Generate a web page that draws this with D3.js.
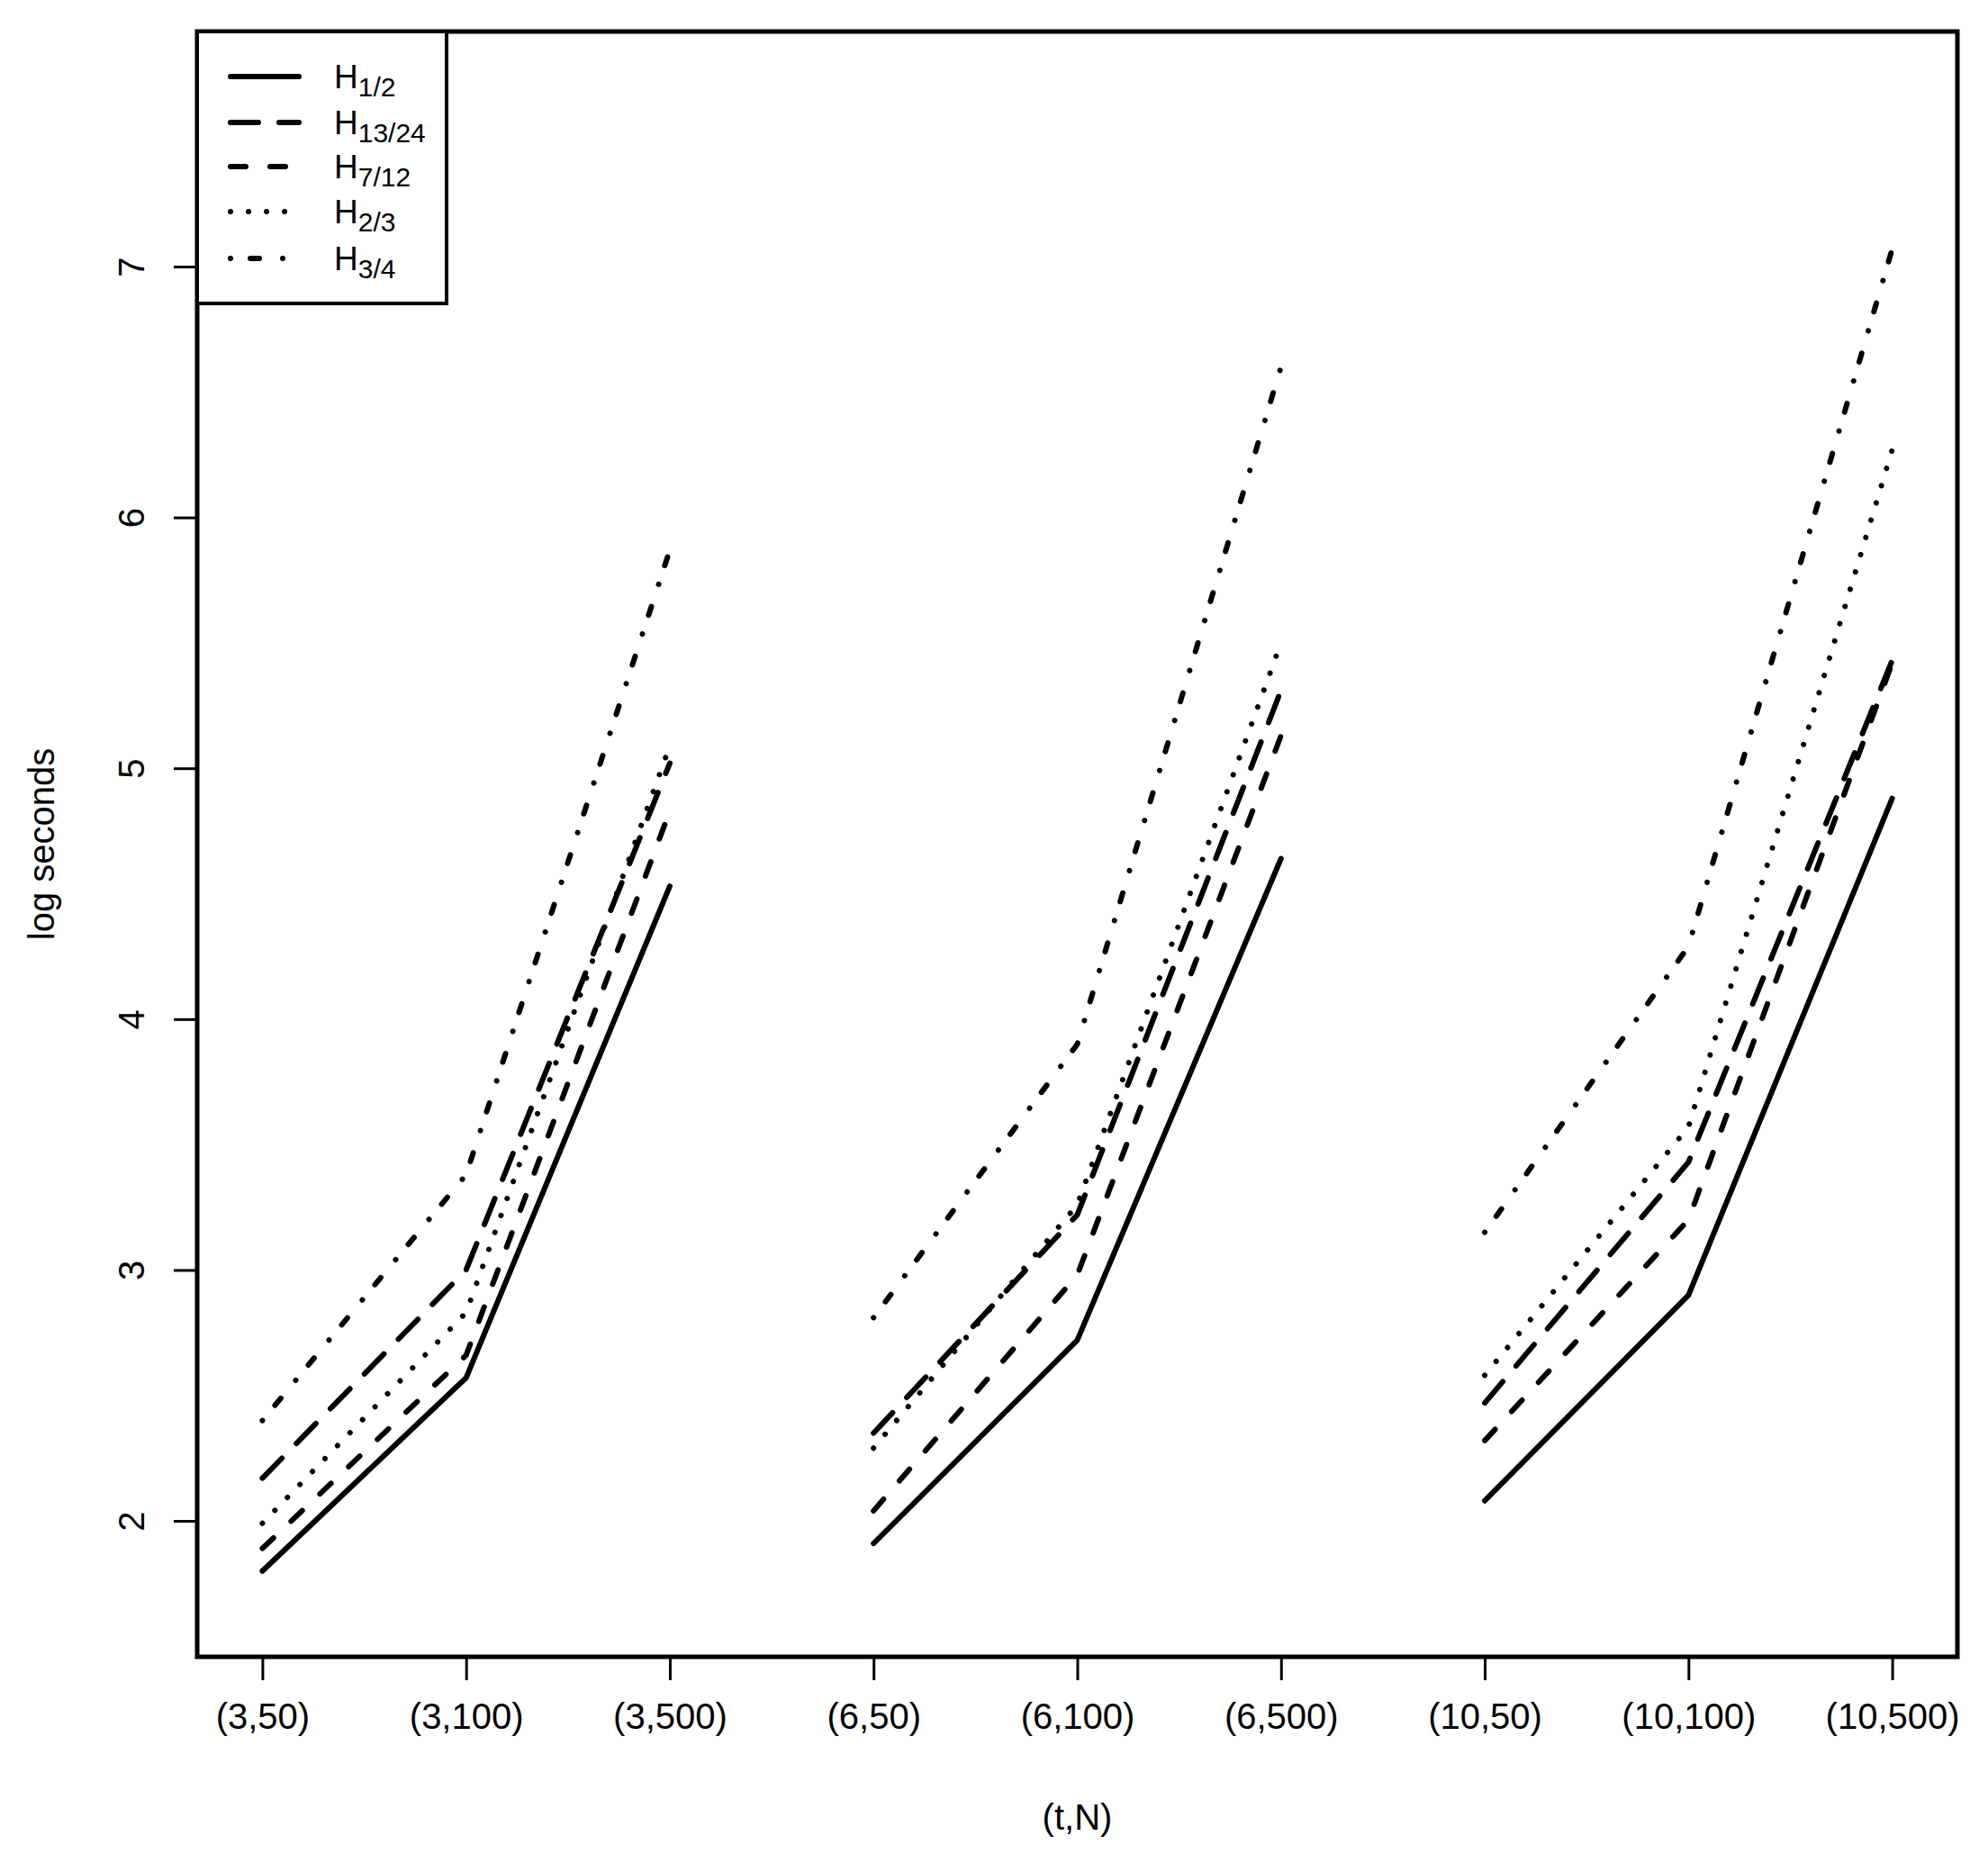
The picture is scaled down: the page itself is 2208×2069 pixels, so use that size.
<!DOCTYPE html>
<html>
<head>
<meta charset="utf-8">
<script src="https://cdn.jsdelivr.net/npm/d3@7"></script>
<style>
  body { margin: 0; background: #fff; }
  svg { display: block; font-family: "Liberation Sans", Arial, sans-serif; }
</style>
</head>
<body>
<div id="chart"></div>
<script>
// x categories (t,N)
var categories = ["(3,50)", "(3,100)", "(3,500)", "(6,50)", "(6,100)", "(6,500)", "(10,50)", "(10,100)", "(10,500)"];
var tValues = [3, 3, 3, 6, 6, 6, 10, 10, 10];

// log seconds per series
var h1_2 = [1.80, 2.57, 4.53, 1.91, 2.72, 4.64, 2.08, 2.90, 4.88];
var h13_24 = [2.17, 3.00, 5.02, 2.35, 3.22, 5.31, 2.47, 3.43, 5.43];
var h7_12 = [1.89, 2.66, 4.83, 2.04, 2.98, 5.13, 2.32, 3.20, 5.42];
var h2_3 = [1.99, 2.83, 5.09, 2.29, 3.26, 5.50, 2.58, 3.57, 6.27];
var h3_4 = [2.40, 3.38, 5.87, 2.81, 3.90, 6.60, 3.15, 4.29, 7.07];

var seriesSubs = ["1/2", "13/24", "7/12", "2/3", "3/4"];
var yTicks = [2, 3, 4, 5, 6, 7];

var width = 2208,
  height = 2069;

var box = { left: 219, right: 2174, top: 35, bottom: 1840 };

// R style: 4% padding on x, y limits
var x = d3.scaleLinear().domain([0.68, 9.32]).range([box.left, box.right]);
var y = d3.scaleLinear().domain([1.458, 7.937]).range([box.bottom, box.top]);

var lw = 6;
var dashes = ["none", "31 23", "17 27", "0.01 20", "0.01 22 10 26"];

var series = [h1_2, h13_24, h7_12, h2_3, h3_4].map(function(vals, i) {
  return { sub: seriesSubs[i], dash: dashes[i], values: vals };
});

var svg = d3
  .select("#chart")
  .append("svg")
  .attr("width", width)
  .attr("height", height);

svg
  .append("rect")
  .attr("width", width)
  .attr("height", height)
  .attr("fill", "#fff");

var line = d3
  .line()
  .x(function(d) {
    return x(d.i + 1);
  })
  .y(function(d) {
    return y(d.v);
  });

// one path per series per t group
var tGroups = Array.from(new Set(tValues));

series.forEach(function(s) {
  tGroups.forEach(function(t) {
    var pts = s.values
      .map(function(v, i) {
        return { v: v, i: i, t: tValues[i] };
      })
      .filter(function(d) {
        return d.t === t;
      });
    svg
      .append("path")
      .attr("d", line(pts))
      .attr("fill", "none")
      .attr("stroke", "#000")
      .attr("stroke-width", lw)
      .attr("stroke-linecap", "round")
      .attr("stroke-linejoin", "round")
      .attr("stroke-dasharray", s.dash);
  });
});

// frame
svg
  .append("rect")
  .attr("x", box.left)
  .attr("y", box.top)
  .attr("width", box.right - box.left)
  .attr("height", box.bottom - box.top)
  .attr("fill", "none")
  .attr("stroke", "#000")
  .attr("stroke-width", 5);

// x axis
var xAxis = d3
  .axisBottom(x)
  .tickValues(d3.range(1, categories.length + 1))
  .tickFormat(function(d) {
    return categories[d - 1];
  })
  .tickSize(26)
  .tickPadding(26);

var gx = svg
  .append("g")
  .attr("transform", "translate(0," + box.bottom + ")")
  .call(xAxis);
gx.select(".domain").remove();
gx.selectAll(".tick line").attr("stroke", "#000").attr("stroke-width", 3);
gx.selectAll(".tick text")
  .attr("fill", "#000")
  .style("font-size", "40px")
  .style("font-family", "Liberation Sans, Arial, sans-serif");

// y axis
var yAxis = d3
  .axisLeft(y)
  .tickValues(yTicks)
  .tickFormat(d3.format("d"))
  .tickSize(26);

var gy = svg
  .append("g")
  .attr("transform", "translate(" + box.left + ",0)")
  .call(yAxis);
gy.select(".domain").remove();
gy.selectAll(".tick line").attr("stroke", "#000").attr("stroke-width", 3);
gy.selectAll(".tick text")
  .attr("fill", "#000")
  .attr("x", null)
  .attr("text-anchor", "middle")
  .attr("transform", "translate(-73,0) rotate(-90)")
  .attr("y", 0)
  .attr("dy", "0.35em")
  .style("font-size", "40px")
  .style("font-family", "Liberation Sans, Arial, sans-serif");

// axis titles
svg
  .append("text")
  .attr("x", (box.left + box.right) / 2)
  .attr("y", 2032)
  .attr("text-anchor", "middle")
  .style("font-size", "40px")
  .text("(t,N)");

svg
  .append("text")
  .attr("transform", "translate(60," + (box.top + box.bottom) / 2 + ") rotate(-90)")
  .attr("text-anchor", "middle")
  .style("font-size", "40px")
  .text("log seconds");

// legend
var legend = svg.append("g");

legend
  .append("rect")
  .attr("x", box.left)
  .attr("y", box.top)
  .attr("width", 277)
  .attr("height", 302)
  .attr("fill", "#fff")
  .attr("stroke", "#000")
  .attr("stroke-width", 4);

var rowY = [85, 136, 185, 235, 287];

var item = legend
  .selectAll("g.item")
  .data(series)
  .enter()
  .append("g")
  .attr("class", "item")
  .attr("transform", function(d, i) {
    return "translate(0," + rowY[i] + ")";
  });

item
  .append("line")
  .attr("x1", 256)
  .attr("x2", 332)
  .attr("stroke", "#000")
  .attr("stroke-width", lw)
  .attr("stroke-linecap", "round")
  .attr("stroke-dasharray", function(d) {
    return d.dash;
  });

var label = item
  .append("text")
  .attr("x", 371)
  .attr("y", 13)
  .style("font-size", "37px");

label.append("tspan").text("H");
label
  .append("tspan")
  .attr("dy", 9)
  .style("font-size", "30px")
  .text(function(d) {
    return d.sub;
  });
</script>
</body>
</html>
